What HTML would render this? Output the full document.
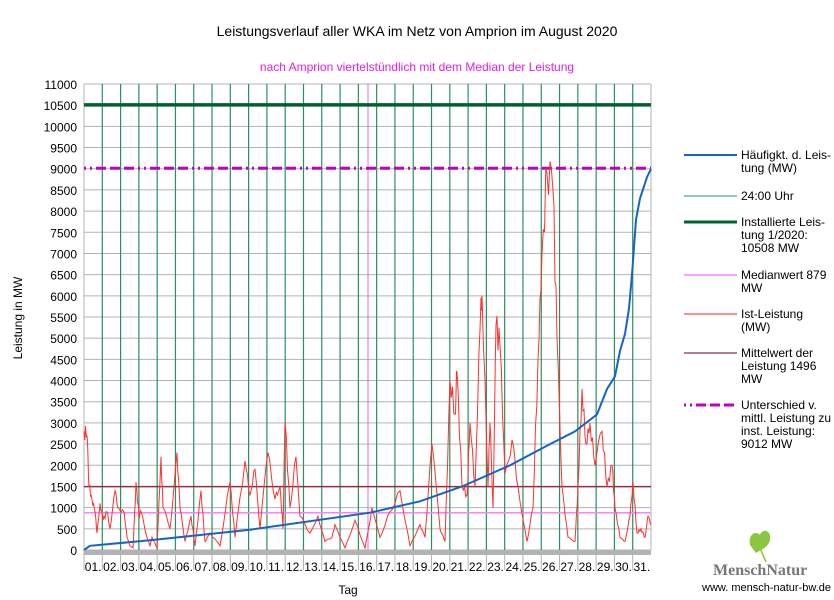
<!DOCTYPE html>
<html><head><meta charset="utf-8"><style>
body{margin:0;background:#fff;}
svg{display:block;font-family:"Liberation Sans",sans-serif;}
</style></head><body>
<svg id="s" width="834" height="600" xmlns="http://www.w3.org/2000/svg">
<rect width="834" height="600" fill="#fff"/>
<text x="417" y="36" font-size="14" text-anchor="middle" fill="#000">Leistungsverlauf aller WKA im Netz von Amprion im August 2020</text>
<text x="417" y="71" font-size="12" text-anchor="middle" fill="#e020e0">nach Amprion viertelstündlich mit dem Median der Leistung</text>
<text x="22" y="318" font-size="12" text-anchor="middle" transform="rotate(-90 22 318)">Leistung in MW</text>
<text x="348" y="594" font-size="12" text-anchor="middle">Tag</text>
<g id="g"></g>
<g font-size="12" fill="#000">
<line x1="684" y1="155" x2="737" y2="155" stroke="#1565c0" stroke-width="2"/>
<text x="741" y="159">Häufigkt. d. Leis-</text><text x="741" y="172">tung (MW)</text>
<line x1="684" y1="196" x2="737" y2="196" stroke="#2a9060" stroke-width="1"/>
<text x="741" y="200">24:00 Uhr</text>
<line x1="684" y1="222" x2="737" y2="222" stroke="#006030" stroke-width="3"/>
<text x="741" y="226">Installierte Leis-</text><text x="741" y="239">tung 1/2020:</text><text x="741" y="252">10508 MW</text>
<line x1="684" y1="275" x2="737" y2="275" stroke="#ff40ff" stroke-width="1"/>
<text x="741" y="279">Medianwert 879</text><text x="741" y="292">MW</text>
<line x1="684" y1="314" x2="737" y2="314" stroke="#ff2020" stroke-width="1"/>
<text x="741" y="318">Ist-Leistung</text><text x="741" y="331">(MW)</text>
<line x1="684" y1="353" x2="737" y2="353" stroke="#600010" stroke-width="1"/>
<text x="741" y="357">Mittelwert der</text><text x="741" y="370">Leistung 1496</text><text x="741" y="383">MW</text>
<line x1="684" y1="405" x2="737" y2="405" stroke="#c000c0" stroke-width="3" stroke-dasharray="2,4,2,4,10,4,10,4,10,4"/>
<text x="741" y="409">Unterschied v.</text><text x="741" y="422">mittl. Leistung zu</text><text x="741" y="435">inst. Leistung:</text><text x="741" y="448">9012 MW</text>
</g>
<path d="M750 545 C748 535 755 530 760 535 C762 528 772 530 770 540 C768 548 760 550 756 553 Z" fill="#8cc63f"/>
<line x1="760" y1="548" x2="766" y2="562" stroke="#8cc63f" stroke-width="1.5"/>
<text x="713" y="575" font-family="Liberation Serif,serif" font-size="16" font-weight="bold" fill="#777">MenschNatur</text>
<text x="702" y="591" font-size="11" fill="#000">www. mensch-natur-bw.de</text>
</svg>
<script>
const X0=84,X1=651,Y0=550,k=466/11000;
const y=v=>Y0-v*k;
let h='';
for(let v=0;v<=11000;v+=500){h+=`<line x1="${X0}" x2="${X1}" y1="${y(v)}" y2="${y(v)}" stroke="#b3b3b3" stroke-width="1"/>`;
h+=`<text x="77" y="${y(v)+5}" font-size="12" text-anchor="end">${v}</text>`;}
h+=`<line x1="${X0}" x2="${X0}" y1="${y(11000)}" y2="${Y0+20}" stroke="#b3b3b3"/>`;
h+=`<line x1="${X1}" x2="${X1}" y1="${y(11000)}" y2="${Y0}" stroke="#b3b3b3"/>`;
h+=`<rect x="${X0}" y="${Y0}" width="${X1-X0}" height="5" fill="#b3b3b3"/>`;
const dw=(X1-X0)/31;
for(let d=0;d<31;d++){const x=X0+d*dw;
 if(d>0){h+=`<line x1="${x}" x2="${x}" y1="${y(11000)}" y2="${Y0}" stroke="#2a9060" stroke-width="1.2"/>`;
 h+=`<line x1="${x}" x2="${x}" y1="${Y0}" y2="${Y0+20}" stroke="#b3b3b3"/>`;}
 h+=`<text x="${x+dw/2}" y="571" font-size="12" text-anchor="middle">${String(d+1).padStart(2,'0')}.</text>`;}
h+=`<line x1="368" x2="368" y1="${y(11000)}" y2="${Y0}" stroke="#d070f0" stroke-width="1"/>`;
h+=`<line x1="${X0}" x2="${X1}" y1="${y(10508)}" y2="${y(10508)}" stroke="#006030" stroke-width="3.5"/>`;
h+=`<line x1="${X0}" x2="${X1}" y1="${y(9012)}" y2="${y(9012)}" stroke="#c000c0" stroke-width="3" stroke-dasharray="2,4,2,4,10,4,10,4,10,4"/>`;
h+=`<line x1="${X0}" x2="${X1}" y1="${y(879)}" y2="${y(879)}" stroke="#ff80ff" stroke-width="1.5"/>`;
h+=`<line x1="${X0}" x2="${X1}" y1="${y(1496)}" y2="${y(1496)}" stroke="#903040" stroke-width="1.5"/>`;
const red=[[84,2800],[87,2700],[89,1500],[92,1200],[95,900],[97,400],[100,1100],[103,700],[107,900],[110,500],[115,1400],[118,1000],[124,900],[127,300],[130,100],[133,50],[136,1600],[139,800],[141,900],[147,300],[150,100],[152,300],[157,50],[161,2200],[163,1000],[170,500],[177,2300],[180,1000],[185,200],[191,800],[195,100],[201,1400],[205,200],[210,400],[220,100],[230,1600],[235,300],[245,2100],[250,1300],[255,1900],[260,500],[268,2300],[275,1200],[280,1500],[283,500],[285,3000],[290,1000],[296,2200],[300,800],[310,400],[318,800],[325,200],[332,300],[335,600],[345,50],[355,700],[365,50],[372,1000],[380,300],[390,900],[400,1400],[410,100],[420,600],[425,300],[432,2500],[440,500],[445,200],[450,4000],[455,3200],[457,4200],[462,1500],[467,1300],[470,3000],[475,1500],[480,5200],[482,6000],[488,1500],[490,3000],[493,1000],[496,5300],[500,4800],[505,1800],[512,2600],[518,1500],[527,200],[533,1000],[538,4500],[542,7000],[547,8900],[553,8500],[557,5000],[562,1500],[568,300],[575,200],[578,1500],[582,3800],[586,2500],[590,3000],[595,2000],[602,2800],[607,1500],[612,2000],[615,1000],[620,300],[625,200],[630,800],[633,1600],[637,400],[641,500],[645,300],[648,800],[651,600]];
let p='';let prev=null;
red.forEach((pt)=>{ if(prev){const n=4;for(let j=1;j<=n;j++){const t=j/n;const xx=prev[0]+(pt[0]-prev[0])*t;let vv=prev[1]+(pt[1]-prev[1])*t;if(j<n)vv+=Math.sin(xx*3.1)*vv*0.07;p+=` L${xx.toFixed(1)},${y(Math.max(20,vv)).toFixed(1)}`;}} else p=`M${pt[0]},${y(pt[1])}`;prev=pt;});
h+=`<path d="${p}" fill="none" stroke="#ff3030" stroke-width="1"/>`;
const blue=[[84,0],[90,100],[150,230],[250,480],[370,880],[420,1150],[462,1500],[510,2000],[550,2500],[575,2800],[597,3200],[607,3800],[615,4100],[620,4700],[625,5100],[629,5700],[632,6500],[636,7800],[640,8300],[647,8800],[651,9000]];
h+=`<path d="M${blue.map(q=>q[0]+','+y(q[1]).toFixed(1)).join(' L')}" fill="none" stroke="#1565c0" stroke-width="2"/>`;
document.getElementById('g').innerHTML=h;
</script>
</body></html>
